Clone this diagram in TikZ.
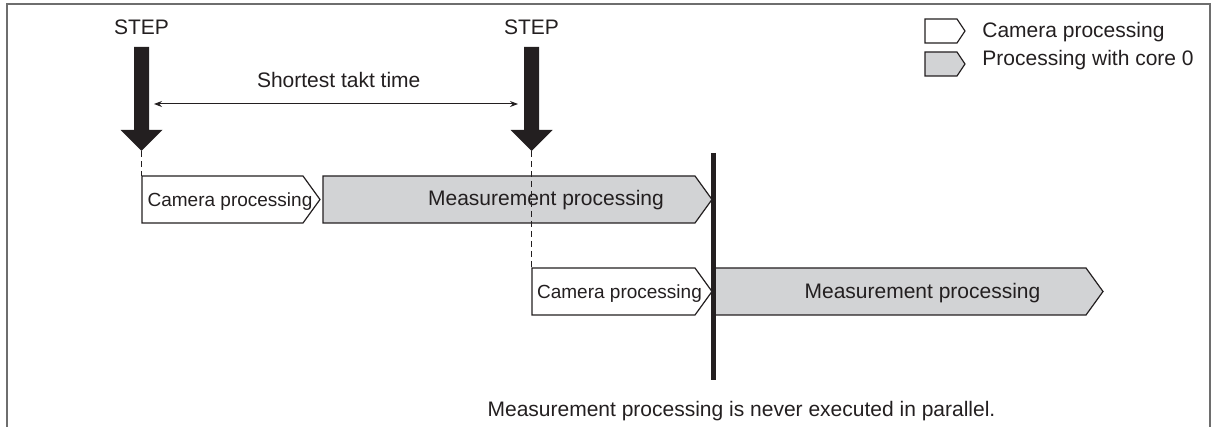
\documentclass[tikz,border=0pt]{standalone}
\usepackage{fontspec}
\setmainfont{Liberation Sans}
\usetikzlibrary{arrows.meta}
\definecolor{ink}{RGB}{35,31,32}
\definecolor{coregray}{RGB}{210,211,213}
\definecolor{framegray}{RGB}{110,110,110}

\begin{document}
\begin{tikzpicture}[x=0.5pt, y=-0.5pt,
  every node/.style={inner sep=0pt, text=ink, font=\fontsize{10.5}{12}\selectfont},
  lbl/.style={anchor=base},
  camtext/.style={anchor=base, font=\fontsize{9.5}{11}\selectfont},
  proc/.style={draw=ink, line width=0.6pt, line join=miter},
  guide/.style={draw=ink, line width=0.5pt, dash pattern=on 3pt off 2pt},
  takt/.style={draw=ink, line width=0.5pt, {Stealth[length=4pt,width=3pt]}-{Stealth[length=4pt,width=3pt]}}]
\useasboundingbox (0,0) rectangle (1216,427);
\draw[framegray, line width=1pt] (7,427) -- (7,4) -- (1210,4) -- (1210,427);

% legend
\foreach \t/\c in {19/white, 52/coregray}
  \draw[proc, fill=\c] (925,\t) -- (957,\t) -- (965,\t+12) -- (957,\t+24) -- (925,\t+24) -- cycle;
\node[anchor=base west] (legcam) at (982,37.5) {Camera processing};
\node[anchor=base west] (legcore) at (982,66) {Processing with core 0};

% STEP arrows
\foreach \n/\x in {1/141.5, 2/531.5} {
  \node[lbl] (step\n) at (\x,35) {STEP};
  \coordinate (top\n) at (\x,47);
  \coordinate (tip\n) at (\x,151);
  \fill[ink] (top\n) ++(-7.5,0) -- ++(15,0) -- ++(0,83) -- ++(13.5,0) -- (tip\n) -- ++(-21,-21) -- ++(13.5,0) -- cycle;
}
\coordinate (takta) at (154,104);
\coordinate (taktb) at (518,104);
\draw[takt] (takta) -- (taktb);
\node[lbl] (taktlbl) at (338.7,88) {Shortest takt time};

% processing boxes
\foreach \l/\r/\t/\c in {142/320/176/white, 323/712/176/coregray, 532/712/268/white, 715/1103/268/coregray}
  \draw[proc, fill=\c] (\l,\t) -- (\r-17,\t) -- (\r,\t+23.5) -- (\r-17,\t+47) -- (\l,\t+47) -- cycle;
\coordinate (row1) at (141.5,176);
\coordinate (row2) at (531.5,268);
\draw[guide] (tip1) -- (row1);
\draw[guide] (tip2) -- (row2);

\node[camtext] (cam1) at (230,206.5) {Camera processing};
\node[camtext] (cam2) at (619.5,299) {Camera processing};
\node[lbl] (meas1) at (546,206) {Measurement processing};
\node[lbl] (meas2) at (922.5,298.5) {Measurement processing};

% no overlap
\coordinate (bartop) at (713.5,153);
\coordinate (barbot) at (713.5,380);
\draw[ink, line width=2.5pt] (bartop) -- (barbot);
\node[lbl] (note) at (741.5,416) {Measurement processing is never executed in parallel.};
\end{tikzpicture}
\end{document}
